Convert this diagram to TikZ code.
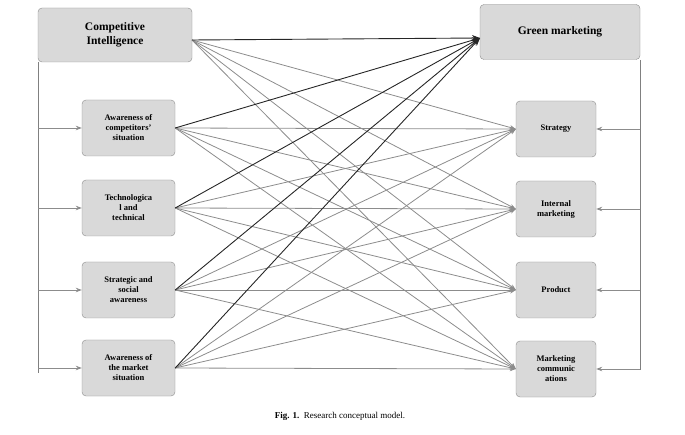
\documentclass[tikz,border=0pt]{standalone}
\usepackage{fontspec}
\setmainfont{Liberation Serif}
\usetikzlibrary{arrows.meta}
\begin{document}
\begin{tikzpicture}[x=1pt,y=-1pt,
 box/.style={draw=black!45,fill=black!15,rounded corners=4pt,align=center,font=\bfseries\fontsize{8.5}{10}\selectfont,inner sep=1pt},
 big/.style={box,font=\bfseries\fontsize{11.5}{13.5}\selectfont},
 dk/.style={draw=black!85,line width=0.9pt,-{Stealth[length=8pt,width=6pt]}},
 gr/.style={draw=black!45,line width=0.8pt,-{Stealth[length=6pt,width=4.5pt]}},
 fr/.style={draw=black!50,line width=0.6pt}]
\useasboundingbox (0,0) rectangle (685,435);
\node[big,minimum width=154pt,minimum height=54pt] (ci) at (115,35) {Competitive\\Intelligence};
\node[big,minimum width=160pt,minimum height=55pt] (gm) at (560,32) {Green marketing};
\foreach \n/\y/\t in {l1/128/{Awareness of\\competitors'\\situation},l2/208/{Technologica\\l and\\technical},l3/290/{Strategic and\\social\\awareness},l4/368/{Awareness of\\the market\\situation}}
 \node[box,minimum width=93pt,minimum height=56pt] (\n) at (128.5,\y) {\t};
\foreach \n/\y/\t in {r1/129/{Strategy},r2/209/{Internal\\marketing},r3/290/{Product},r4/369/{Marketing\\communic\\ations}}
 \node[box,minimum width=80pt,minimum height=56pt] (\n) at (556,\y) {\t};
\coordinate (gt) at (480,38);
\coordinate (cs) at (192,40);
\coordinate (la) at (38,62); \coordinate (lb) at (38,373);
\coordinate (ra) at (640,60); \coordinate (rb) at (640,370);
\draw[fr] (la) -- (lb);
\draw[fr] (ra) -- (rb);
\foreach \n/\y in {l1/128,l2/208,l3/290,l4/368}{
 \coordinate (a\n) at (38,\y);
 \draw[gr] (a\n) -- (\n.west);}
\foreach \n/\y in {r1/129,r2/209,r3/290,r4/369}{
 \coordinate (a\n) at (640,\y);
 \draw[gr] (a\n) -- (\n.east);}
\foreach \s in {l1,l2,l3,l4}
 \foreach \t in {r1,r2,r3,r4}
  \draw[gr] (\s.east) -- (\t.west);
\foreach \t in {r1,r2,r3,r4}
  \draw[gr] (cs) -- (\t.west);
\draw[dk] (cs) -- (gt);
\foreach \s in {l1,l2,l3,l4}
  \draw[dk] (\s.east) -- (gt);
\node[font=\fontsize{9}{11}\selectfont] (cap) at (340,416) {\textbf{Fig. 1.}\ \ Research conceptual model.};
\end{tikzpicture}
\end{document}
